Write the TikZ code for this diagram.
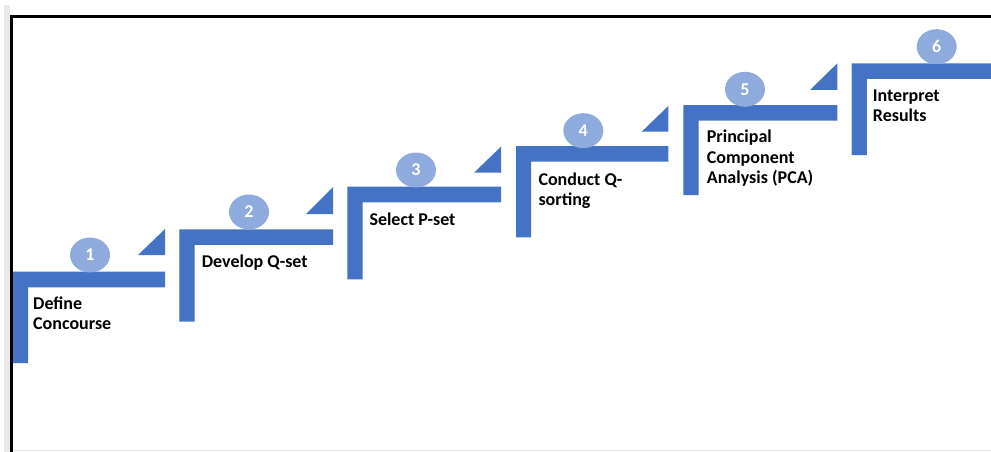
\documentclass[tikz,border=0pt]{standalone}
\usepackage{fontspec}
\setmainfont{Carlito}
\definecolor{barblue}{HTML}{4472C4}
\definecolor{dotblue}{HTML}{8FAADC}
\begin{document}
\begin{tikzpicture}[x=1pt,y=-1pt,
  bar/.style={fill=barblue,draw=none},
  dot/.style={ellipse,fill=dotblue,draw=none,minimum width=40pt,minimum height=35pt,inner sep=0pt,
    text=white,font=\fontsize{18}{20}\selectfont\bfseries},
  lbl/.style={anchor=north west,inner sep=0pt,align=left,text=black,
    font=\fontsize{18}{20.5}\selectfont\bfseries},
]
\usetikzlibrary{shapes.geometric}
\useasboundingbox (0,0) rectangle (991,452);
\clip (0,0) rectangle (991,452);
% frame
\fill[gray!18] (4,5) rectangle (10,452);
\draw[gray!20,line width=1pt] (10,450.5) -- (991,450.5);
\draw[black,line width=2.6pt] (11.6,452) -- (11.6,16.6) -- (991,16.6);
% steps: left, top, right, vertical bottom
\foreach \L/\T/\R/\B in {13/271.7/165/363, 179.3/229.3/333/321.7, 347.3/186.7/501/279.3,
    516/146/668.3/237.3, 683.3/105/837.3/195, 851.7/63.3/1000/155}{
  \fill[bar] (\L,\T) -- (\R,\T) -- (\R,\T+15.6) -- (\L+15.2,\T+15.6) -- (\L+15.2,\B) -- (\L,\B) -- cycle;
}
% triangles: left x, bottom y, right x, top y
\foreach \a/\b/\c/\d in {138/255/165/229, 306/214/333/187, 474/172.7/501/146.7,
    641.7/131.7/668.3/106, 810/90/837.3/63.3}{
  \fill[bar] (\a,\b) -- (\c,\b) -- (\c,\d) -- cycle;
}
% number circles
\node[dot] (n1) at (90,255) {1};
\node[dot] (n2) at (249,212) {2};
\node[dot] (n3) at (416,170) {3};
\node[dot] (n4) at (583.3,130.7) {4};
\node[dot] (n5) at (745,89.3) {5};
\node[dot] (n6) at (936.7,46.7) {6};
% labels
\node[lbl] (t1) at (33,294.8) {\strut Define\\Concourse};
\node[lbl] (t2) at (201.7,253.2) {\strut Develop Q-set};
\node[lbl] (t3) at (369.3,210.5) {\strut Select P-set};
\node[lbl] (t4) at (538.3,170.5) {\strut Conduct Q-\\sorting};
\node[lbl] (t5) at (706.7,128.2) {\strut Principal\\Component\\Analysis (PCA)};
\node[lbl] (t6) at (872.7,86.5) {\strut Interpret\\Results};
\end{tikzpicture}
\end{document}
